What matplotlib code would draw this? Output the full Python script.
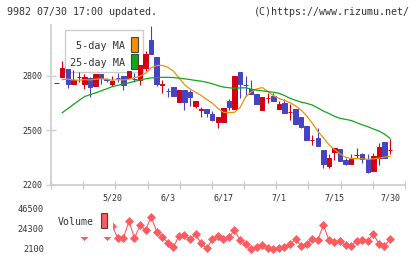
import numpy as np
import matplotlib
matplotlib.use("Agg")
import matplotlib.pyplot as plt
from matplotlib.patches import Rectangle

# price data (61 sessions, 5/2 .. 7/30)
opens = [2762, 2795, 2837, 2758, 2793, 2758, 2791, 2743, 2813, 2782,
         2758, 2789, 2800, 2787, 2784, 2776, 2846, 2998, 2905, 2749,
         2719, 2739, 2659, 2721, 2712, 2635, 2615, 2617, 2591, 2548,
         2548, 2662, 2617, 2822, 2751, 2730, 2703, 2611, 2679, 2690,
         2617, 2653, 2601, 2617, 2574, 2525, 2446, 2460, 2391, 2305,
         2383, 2396, 2336, 2317, 2363, 2369, 2341, 2277, 2347, 2437, 2391]
closes = [2762, 2846, 2758, 2776, 2795, 2795, 2739, 2813, 2788, 2780,
          2772, 2787, 2749, 2828, 2782, 2861, 2919, 2919, 2754, 2758,
          2717, 2692, 2721, 2659, 2686, 2662, 2617, 2598, 2558, 2574,
          2622, 2629, 2800, 2754, 2749, 2703, 2648, 2684, 2681, 2662,
          2648, 2598, 2603, 2534, 2519, 2446, 2448, 2415, 2317, 2350,
          2405, 2332, 2317, 2341, 2365, 2341, 2273, 2360, 2409, 2350, 2393]
highs = [2762, 2882, 2837, 2831, 2824, 2809, 2795, 2813, 2813, 2791,
         2802, 2815, 2800, 2828, 2818, 2861, 2938, 3075, 2905, 2776,
         2733, 2739, 2721, 2721, 2721, 2662, 2630, 2617, 2605, 2574,
         2622, 2675, 2800, 2822, 2800, 2776, 2703, 2684, 2708, 2708,
         2662, 2672, 2644, 2617, 2574, 2525, 2475, 2515, 2391, 2372,
         2405, 2396, 2347, 2369, 2402, 2378, 2369, 2378, 2433, 2437, 2452]
lows = [2762, 2795, 2736, 2758, 2767, 2728, 2686, 2743, 2758, 2767,
        2742, 2767, 2721, 2787, 2765, 2750, 2828, 2919, 2745, 2706,
        2684, 2692, 2659, 2611, 2635, 2622, 2576, 2576, 2552, 2515,
        2548, 2611, 2617, 2679, 2690, 2703, 2648, 2611, 2653, 2662,
        2617, 2598, 2558, 2534, 2514, 2446, 2420, 2415, 2292, 2292,
        2338, 2332, 2310, 2317, 2347, 2323, 2268, 2277, 2310, 2350, 2369]

# moving averages as drawn (start at the 2nd session)
ma5 = [2780, 2782, 2778, 2776, 2780, 2778, 2782, 2784, 2782, 2776,
       2780, 2778, 2782, 2790, 2798, 2815, 2845, 2857, 2858, 2848,
       2826, 2790, 2752, 2728, 2710, 2693, 2670, 2650, 2622, 2600,
       2598, 2600, 2625, 2685, 2712, 2728, 2736, 2715, 2692, 2676,
       2665, 2653, 2635, 2612, 2580, 2540, 2495, 2460, 2422, 2395,
       2372, 2352, 2346, 2345, 2344, 2341, 2344, 2348, 2354, 2358]
ma25 = [2598, 2620, 2643, 2665, 2686, 2697, 2707, 2718, 2729, 2741,
        2748, 2755, 2762, 2770, 2778, 2784, 2789, 2791, 2792, 2792,
        2791, 2788, 2784, 2780, 2775, 2771, 2765, 2757, 2747, 2739,
        2735, 2732, 2734, 2735, 2727, 2722, 2718, 2714, 2710, 2705,
        2692, 2677, 2666, 2656, 2649, 2640, 2624, 2607, 2593, 2578,
        2567, 2561, 2555, 2543, 2531, 2521, 2508, 2497, 2480, 2457]

volume = [25000, 30000, 27000, 24000, 26000, 16200, 28000, 30000, 24000, 16200,
          27600, 13980, 14000, 33180, 14000, 28740, 23190, 37950, 21300, 15750,
          9100, 3990, 16530, 17640, 12870, 18420, 8430, 2880, 12870, 16530,
          12870, 15090, 23190, 12090, 7650, 1770, 3990, 6540, 2880, 1770,
          2880, 3990, 7650, 12870, 5430, 7650, 12870, 12090, 28740, 12090,
          10200, 11000, 6540, 5430, 11000, 12090, 11000, 18750, 7650, 5430, 12870]

date_pos = [10, 20, 30, 40, 50, 60]
date_labels = ['5/20', '6/3', '6/17', '7/1', '7/15', '7/30']
price_ticks = [2200, 2500, 2800]
vol_ticks = [2100, 24300, 46500]

RED = '#d40010'
BLUE = '#4444c4'
ORANGE = '#f0900a'
GREEN = '#10a818'
VOLC = '#ff5a60'
GRID = '#cccccc'
MONO = 'DejaVu Sans Mono'

W, H = 420, 259
def fx(px):
    return px / W
def fy(py):
    return 1 - py / H

fig = plt.figure(figsize=(4.2, 2.59), dpi=100)
xmin, xmax = -1.03, 62.7

# ---- price panel
ax = fig.add_axes([fx(51), fy(185), fx(405) - fx(51), fy(25) - fy(185)])
o = np.array(opens); c = np.array(closes)
x = np.arange(len(o))
up = c >= o
col = np.where(up, RED, BLUE)
ax.vlines(x, lows, highs, colors=col, lw=0.8, zorder=3)
ax.bar(x, np.abs(c - o), bottom=np.minimum(o, c), width=0.8, color=col,
       edgecolor=col, linewidth=0.7, zorder=4)
xm = x[1:]
ax.plot(xm, ma5, color=ORANGE, lw=0.9, zorder=5)
ax.plot(xm, ma25, color=GREEN, lw=0.9, zorder=5)

ax.set_xlim(xmin, xmax)
ax.set_ylim(2200, 3080)
for s in ['top', 'right']:
    ax.spines[s].set_visible(False)
for s in ['left', 'bottom']:
    ax.spines[s].set_color(GRID)
    ax.spines[s].set_linewidth(1.2)
ax.set_xticks(np.linspace(xmin, xmax, 12))
ax.set_xticklabels([])
ax.set_xticks(date_pos, minor=True)
ax.set_xticklabels(date_labels, minor=True, fontsize=6, family=MONO, color='#333333')
ax.tick_params(axis='x', which='major', direction='inout', length=6, width=1, color=GRID)
ax.tick_params(axis='x', which='minor', length=0, pad=6)
ax.set_yticks(price_ticks)
ax.set_yticklabels([str(t) for t in price_ticks], fontsize=6, family=MONO, color='#333333')
ax.tick_params(axis='y', direction='inout', length=7, width=1, color=GRID, pad=3)

# legend of the price panel: box sits under the candles
tf = fig.transFigure
ax.add_patch(Rectangle((fx(65), fy(72)), fx(143) - fx(65), fy(30) - fy(72), transform=tf,
                       facecolor='white', edgecolor=GRID, lw=1, zorder=1, clip_on=False))
ax.text(fx(125), fy(46), '5-day MA', transform=tf, ha='right', va='center', fontsize=7.3,
        family=MONO, color='#333333', zorder=2)
ax.text(fx(125), fy(63), '25-day MA', transform=tf, ha='right', va='center', fontsize=7.3,
        family=MONO, color='#333333', zorder=2)
ax.add_patch(Rectangle((fx(131), fy(52)), fx(6.5), fy(0) - fy(15), transform=tf,
                       facecolor=ORANGE, edgecolor='#444444', lw=0.8, zorder=2, clip_on=False))
ax.add_patch(Rectangle((fx(131), fy(69)), fx(6.5), fy(0) - fy(15), transform=tf,
                       facecolor=GREEN, edgecolor='#444444', lw=0.8, zorder=2, clip_on=False))

# ---- volume panel
ax2 = fig.add_axes([fx(51), fy(253), fx(405) - fx(51), fy(205) - fy(253)])
ax2.plot(x, volume, color=VOLC, lw=0.8, marker='D', ms=3.9, mec=VOLC, mew=0.5)
ax2.set_xlim(xmin, xmax)
ax2.set_ylim(-2340, 50940)
for s in ax2.spines.values():
    s.set_visible(False)
ax2.set_xticks([])
ax2.set_yticks(vol_ticks)
ax2.set_yticklabels([str(t) for t in vol_ticks], fontsize=6.2, family=MONO, color='#333333')
ax2.tick_params(axis='y', length=0, pad=5)

fig.add_artist(Rectangle((fx(51), fy(236.5)), fx(113) - fx(51), fy(205) - fy(236.5),
                         facecolor='white', edgecolor='none', zorder=3))
fig.text(fx(58), fy(222), 'Volume', ha='left', va='center', fontsize=7.1,
         family=MONO, color='#333333', zorder=4)
fig.add_artist(Rectangle((fx(101), fy(228)), fx(6.5), fy(0) - fy(15), facecolor=VOLC,
                         edgecolor='#444444', lw=0.8, zorder=4))

# header
fig.text(fx(7), fy(12), '9982 07/30 17:00 updated.', ha='left', va='center',
         fontsize=7.2, family=MONO, color='#333333')
fig.text(fx(410), fy(12), '(C)https://www.rizumu.net/', ha='right', va='center',
         fontsize=7.2, family=MONO, color='#333333')

fig.savefig('out.png', dpi=100)
